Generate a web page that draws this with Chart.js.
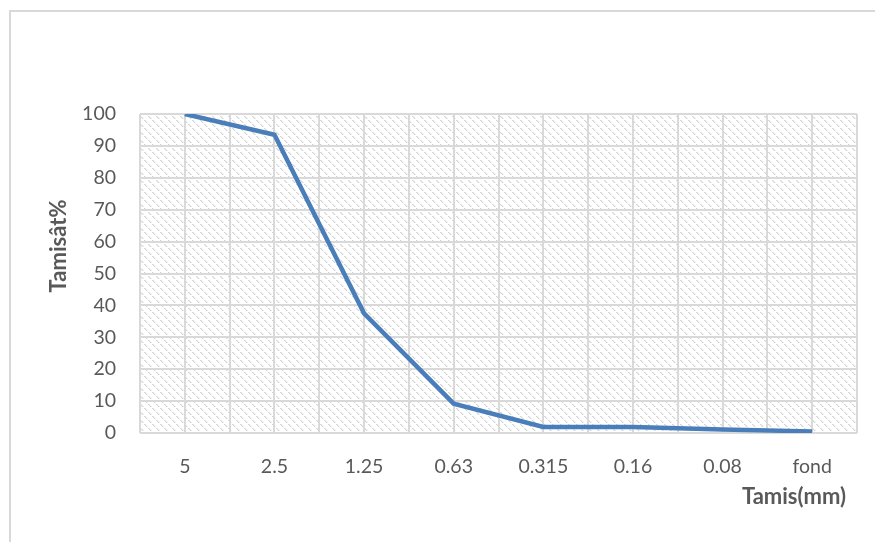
<!DOCTYPE html>
<html>
<head>
<meta charset="utf-8">
<script src="https://cdn.jsdelivr.net/npm/chart.js@4.4.1/dist/chart.umd.min.js"></script>
<style>
  html, body { margin: 0; padding: 0; background: #ffffff; }
  #wrap { position: relative; width: 875px; height: 542px; overflow: hidden; }
  #frame { position: absolute; left: 9px; top: 10px; width: 900px; height: 560px;
           border-left: 2px solid #d9d9d9; border-top: 2px solid #d9d9d9; box-sizing: border-box; }
  canvas { position: absolute; left: 0; top: 0; }
</style>
</head>
<body>
<div id="wrap">
  <div id="frame"></div>
  <canvas id="chart" width="875" height="542"></canvas>
</div>
<script>
// Sieve sizes (mm) and cumulative passing percentages
const sieves = ['5', '2.5', '1.25', '0.63', '0.315', '0.16', '0.08', 'fond'];
const passing = [100, 93.5, 37.5, 9.2, 1.9, 1.9, 1.1, 0.5];
const yTicks = [0, 10, 20, 30, 40, 50, 60, 70, 80, 90, 100];
const yTitle = 'Tamisât%';
const xTitle = 'Tamis(mm)';

const textColor = '#595959';
const gridColor = '#d9d9d9';
const fontFamily = 'Lato, "Open Sans", sans-serif';

// Dashed downward-diagonal fill for the plot area
function makePattern(ctx) {
  const tile = document.createElement('canvas');
  tile.width = 8; tile.height = 8;
  const t = tile.getContext('2d');
  t.fillStyle = '#ffffff';
  t.fillRect(0, 0, 8, 8);
  const dash = (x0, y0) => {
    for (let k = 0; k < 3; k++) {
      t.fillStyle = '#d3d3d3';
      t.fillRect((x0 + k) % 8, (y0 + k) % 8, 1, 1);
      t.fillStyle = '#ececec';
      t.fillRect((x0 + k + 1) % 8, (y0 + k) % 8, 1, 1);
    }
  };
  dash(0, 0);
  dash(4, 4);
  return ctx.createPattern(tile, 'repeat');
}

const plotFill = {
  id: 'plotFill',
  beforeDraw(chart) {
    const { ctx, chartArea: a } = chart;
    ctx.save();
    ctx.fillStyle = makePattern(ctx);
    ctx.fillRect(a.left, a.top, a.right - a.left, a.bottom - a.top);
    ctx.restore();
  }
};

const axisTitles = {
  id: 'axisTitles',
  afterDraw(chart) {
    const { ctx } = chart;
    ctx.save();
    ctx.fillStyle = textColor;
    ctx.font = 'bold 22px ' + fontFamily;
    ctx.textBaseline = 'middle';
    ctx.textAlign = 'center';
    ctx.translate(59, 246);
    ctx.rotate(-Math.PI / 2);
    ctx.fillText(yTitle, 0, 0);
    ctx.restore();
    ctx.save();
    ctx.fillStyle = textColor;
    ctx.font = 'bold 22px ' + fontFamily;
    ctx.textBaseline = 'middle';
    ctx.textAlign = 'right';
    ctx.fillText(xTitle, 846, 497);
    ctx.restore();
  }
};

new Chart(document.getElementById('chart'), {
  type: 'line',
  data: {
    datasets: [{
      data: passing.map((v, i) => ({ x: i, y: v })),
      borderColor: '#4a7ebb',
      borderWidth: 4.5,
      pointRadius: 0,
      tension: 0,
      fill: false
    }]
  },
  options: {
    responsive: false,
    animation: false,
    layout: { padding: { left: 10, right: 18, top: 114, bottom: 0 } },
    plugins: { legend: { display: false }, tooltip: { enabled: false } },
    scales: {
      x: {
        type: 'linear',
        min: -0.5,
        max: sieves.length - 0.5,
        afterBuildTicks(scale) {
          const ticks = [];
          for (let v = -0.5; v <= sieves.length - 0.5 + 1e-9; v += 0.5) ticks.push({ value: v });
          scale.ticks = ticks;
        },
        afterFit(scale) {
          scale.height = 109;
          scale.paddingLeft = 0;
          scale.paddingRight = 0;
        },
        grid: { color: gridColor, lineWidth: 2, drawTicks: false },
        border: { display: false },
        ticks: {
          autoSkip: false,
          maxRotation: 0,
          padding: 22,
          color: textColor,
          font: { family: fontFamily, size: 19.5 },
          callback(v) { return Number.isInteger(v) ? sieves[v] : ''; }
        }
      },
      y: {
        min: 0,
        max: 100,
        afterBuildTicks(scale) { scale.ticks = yTicks.map(v => ({ value: v })); },
        afterFit(scale) { scale.width = 130; },
        grid: { color: gridColor, lineWidth: 2, drawTicks: false },
        border: { display: false },
        ticks: {
          padding: 24,
          color: textColor,
          font: { family: fontFamily, size: 19.5 }
        }
      }
    }
  },
  plugins: [plotFill, axisTitles]
});
</script>
</body>
</html>
